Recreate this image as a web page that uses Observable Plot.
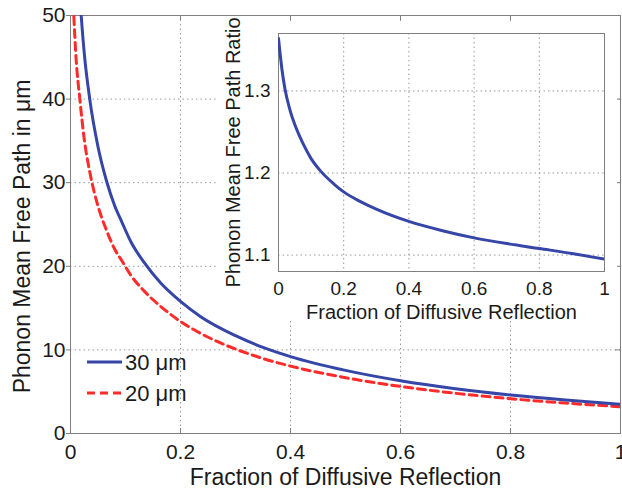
<!DOCTYPE html>
<html>
<head>
<meta charset="utf-8">
<script src="https://cdn.jsdelivr.net/npm/d3@7"></script>
<script src="https://cdn.jsdelivr.net/npm/@observablehq/plot@0.6"></script>
<style>
  body { margin: 0; background: white; }
  #wrap { position: relative; width: 622px; height: 491px; overflow: hidden; font-family: "Liberation Sans", Arial, sans-serif; }
  #wrap > * { position: absolute; }
</style>
</head>
<body>
<div id="wrap"></div>
<script>
// ---- data ----
const xTicks = [0, 0.2, 0.4, 0.6, 0.8, 1];
const yTicksMain = [0, 10, 20, 30, 40, 50];
const yTicksInset = [1.1, 1.2, 1.3];
const xLabel = "Fraction of Diffusive Reflection";
const yLabelMain = "Phonon Mean Free Path in μm";
const yLabelInset = "Phonon Mean Free Path Ratio";
const seriesNames = ["30 μm", "20 μm"];

const p30 = [0.015, 0.0194, 0.025, 0.035, 0.05, 0.0655, 0.08, 0.094, 0.11, 0.1345, 0.164, 0.2, 0.236, 0.3, 0.35, 0.4, 0.5, 0.6, 0.7, 0.8, 0.9, 1.0];
const mfp30 = [54.4, 50, 45.5, 40, 34.3, 30.2, 27.3, 25.2, 22.9, 20.4, 18.0, 15.8, 14.0, 11.7, 10.3, 9.2, 7.55, 6.31, 5.36, 4.61, 4.01, 3.5];

const p20 = [0.004, 0.006, 0.01, 0.017, 0.025, 0.035, 0.05, 0.0655, 0.08, 0.094, 0.11, 0.1345, 0.164, 0.2, 0.236, 0.3, 0.35, 0.4, 0.5, 0.6, 0.7, 0.8, 0.9, 1.0];
const mfp20 = [53, 50, 45, 40, 35.2, 31.3, 27.2, 24.3, 22.1, 20.6, 18.9, 17.0, 15.2, 13.4, 12.0, 10.1, 8.97, 8.06, 6.68, 5.63, 4.81, 4.16, 3.64, 3.2];

const pRatio = [0, 0.005, 0.01, 0.02, 0.035, 0.05, 0.075, 0.1, 0.13, 0.17, 0.2, 0.25, 0.3, 0.4, 0.5, 0.6, 0.7, 0.8, 0.9, 1.0];
const ratio = [1.364, 1.345, 1.328, 1.302, 1.277, 1.259, 1.236, 1.2175, 1.202, 1.1866, 1.177, 1.1655, 1.156, 1.141, 1.130, 1.121, 1.114, 1.108, 1.102, 1.095];

// ---- style ----
const BLUE = "#3546a8";
const RED = "#ff2a2a";
const AXIS = "#7f7f7f";
const GRID = "#9a9a9a";
const FONT = "'Liberation Sans', Arial, Helvetica, sans-serif";

const s30 = p30.map((p, i) => ({p, v: mfp30[i]}));
const s20 = p20.map((p, i) => ({p, v: mfp20[i]}));
const sRatio = pRatio.map((p, i) => ({p, v: ratio[i]}));

const wrap = document.getElementById("wrap");

// ---- main chart ----
const mT = 15, mB = 58, H = 491;
const innerH = H - mT - mB;
const main = Plot.plot({
  width: 622, height: H,
  marginLeft: 70, marginRight: 2, marginTop: mT, marginBottom: mB,
  x: {domain: [0, 1]},
  y: {domain: [0, 50]},
  style: {fontFamily: FONT, fontSize: "21px", color: "#1a1a1a", background: "white", overflow: "visible"},
  marks: [
    Plot.gridX(xTicks.slice(1, -1), {stroke: GRID, strokeOpacity: 1, strokeDasharray: "1.5,3"}),
    Plot.gridY(yTicksMain.slice(1, -1), {stroke: GRID, strokeOpacity: 1, strokeDasharray: "1.5,3"}),
    Plot.ruleX(xTicks.slice(1, -1), {x: d => d, stroke: AXIS, insetBottom: innerH - 5}),
    Plot.ruleX(xTicks.slice(1, -1), {x: d => d, stroke: AXIS, insetTop: innerH - 5}),
    Plot.ruleY(yTicksMain.slice(1, -1), {y: d => d, stroke: AXIS, insetLeft: 550 - 5}),
    Plot.frame({stroke: AXIS}),
    Plot.axisX(xTicks, {tickSize: 0, tickPadding: 11, tickFormat: d => String(d), label: null, fontSize: 21}),
    Plot.axisY(yTicksMain, {tickSize: 4, tickPadding: 1, stroke: AXIS, tickFormat: d => String(d), label: null, fontSize: 21}),
    Plot.text([xLabel], {frameAnchor: "bottom", textAnchor: "middle", lineAnchor: "top", dy: 35, fontSize: 23, fill: "#1a1a1a"}),
    Plot.text([yLabelMain], {frameAnchor: "left", textAnchor: "middle", lineAnchor: "middle", rotate: -90, dx: -48, dy: 12, fontSize: 23, fill: "#1a1a1a"}),
    Plot.line(s20, {x: "p", y: "v", stroke: RED, strokeWidth: 3, strokeDasharray: "8,5", curve: "monotone-x", clip: true}),
    Plot.line(s30, {x: "p", y: "v", stroke: BLUE, strokeWidth: 3, curve: "monotone-x", clip: true})
  ]
});
main.style.left = "0px"; main.style.top = "0px";
wrap.appendChild(main);

// ---- legend (overlay) ----
const ns = "http://www.w3.org/2000/svg";
const leg = document.createElementNS(ns, "svg");
leg.setAttribute("width", 200); leg.setAttribute("height", 80);
leg.style.left = "80px"; leg.style.top = "342px";
const legItems = [{name: seriesNames[0], color: BLUE, dash: null}, {name: seriesNames[1], color: RED, dash: "8,5"}];
legItems.forEach((it, i) => {
  const y = 20 + i * 31;
  const ln = document.createElementNS(ns, "line");
  ln.setAttribute("x1", 7); ln.setAttribute("x2", 42); ln.setAttribute("y1", y); ln.setAttribute("y2", y);
  ln.setAttribute("stroke", it.color); ln.setAttribute("stroke-width", 3);
  if (it.dash) ln.setAttribute("stroke-dasharray", it.dash);
  leg.appendChild(ln);
  const tx = document.createElementNS(ns, "text");
  tx.setAttribute("x", 45); tx.setAttribute("y", y); tx.setAttribute("dy", "0.36em");
  tx.setAttribute("font-family", FONT); tx.setAttribute("font-size", 22); tx.setAttribute("fill", "#1a1a1a");
  tx.textContent = it.name;
  leg.appendChild(tx);
});
wrap.appendChild(leg);

// ---- inset chart ----
const iW = 399, iH = 298, iT = 11, iB = 49, iL = 60, iR = 13;
const inset = Plot.plot({
  width: iW, height: iH,
  marginLeft: iL, marginRight: iR, marginTop: iT, marginBottom: iB,
  x: {domain: [0, 1]},
  y: {domain: [1.08, 1.37]},
  style: {fontFamily: FONT, fontSize: "18px", color: "#1a1a1a", background: "white", overflow: "visible"},
  marks: [
    Plot.gridX(xTicks.slice(1, -1), {stroke: GRID, strokeOpacity: 1, strokeDasharray: "1.5,3"}),
    Plot.gridY(yTicksInset, {stroke: GRID, strokeOpacity: 1, strokeDasharray: "1.5,3"}),
    Plot.frame({stroke: AXIS}),
    Plot.axisX(xTicks, {tickSize: 0, tickPadding: 10, tickFormat: d => String(d), label: null, fontSize: 19}),
    Plot.axisY(yTicksInset, {tickSize: 0, tickPadding: 8, tickFormat: d => String(d), label: null, fontSize: 19}),
    Plot.text([xLabel], {frameAnchor: "bottom", textAnchor: "middle", lineAnchor: "top", dy: 33, fontSize: 20, fill: "#1a1a1a"}),
    Plot.text([yLabelInset], {frameAnchor: "left", textAnchor: "middle", lineAnchor: "middle", rotate: -90, dx: -45, fontSize: 20, fill: "#1a1a1a"}),
    Plot.line(sRatio, {x: "p", y: "v", stroke: BLUE, strokeWidth: 3, curve: "monotone-x", clip: true})
  ]
});
inset.style.left = "218px"; inset.style.top = "22px";
wrap.appendChild(inset);
</script>
</body>
</html>
